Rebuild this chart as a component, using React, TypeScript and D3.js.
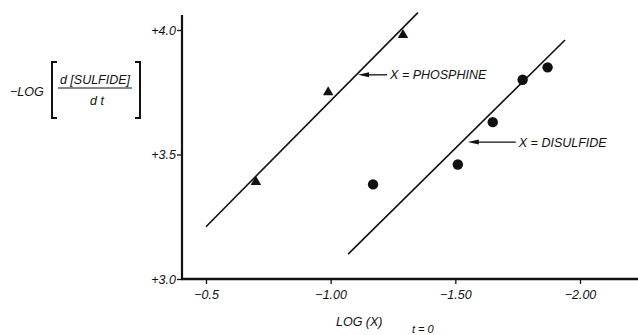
import { useRef, useEffect } from "react";
import * as d3 from "d3";

// readings from the plot
const phosphineX = [-0.7, -0.99, -1.29];
const phosphineY = [3.39, 3.75, 3.98];
const disulfideX = [-1.17, -1.51, -1.65, -1.77, -1.87];
const disulfideY = [3.38, 3.46, 3.63, 3.8, 3.85];

// drawn fit lines (end points)
const phosphineFitX = [-0.5, -1.35];
const phosphineFitY = [3.21, 4.07];
const disulfideFitX = [-1.07, -1.94];
const disulfideFitY = [3.1, 3.96];

const xTicks = [-0.5, -1.0, -1.5, -2.0];
const xTickLabels = ["\u22120.5", "\u22121.00", "\u22121.50", "\u22122.00"];
const yTicks = [3.0, 3.5, 4.0];
const yTickLabels = ["+3.0", "+3.5", "+4.0"];

const labels = ["X = PHOSPHINE", "X = DISULFIDE"];
const labelTipX = [-1.11, -1.55];
const labelTipY = [3.82, 3.55];

const FONT = "'Liberation Sans', Arial, sans-serif";

const App = () => {
  const svgRef = useRef<SVGSVGElement | null>(null);

  const W = 638;
  const H = 335;

  useEffect(() => {
    if (!svgRef.current) return;
    const svg = d3.select(svgRef.current);
    svg.selectAll("*").remove();

    const x = d3.scaleLinear().domain([-0.5, -2.0]).range([206, 580]);
    const y = d3.scaleLinear().domain([3.0, 4.0]).range([279, 30]);
    const x0 = 182;
    const y0 = y(3.0);

    const g = svg
      .append("g")
      .style("font-family", FONT)
      .style("font-style", "italic");

    // axes
    const yAxis = d3
      .axisLeft(y)
      .tickValues(yTicks)
      .tickSize(5)
      .tickSizeOuter(0)
      .tickFormat((d, i) => yTickLabels[i]);
    const yg = g.append("g").attr("transform", `translate(${x0},0)`).call(yAxis);
    yg.select(".domain").remove();
    yg.selectAll("line").attr("stroke", "#111").attr("stroke-width", 1.3);
    yg.selectAll("text")
      .style("font-size", "12.5px")
      .attr("font-family", FONT)
      .attr("fill", "#111")
      .attr("x", -6);

    const xAxis = d3
      .axisBottom(x)
      .tickValues(xTicks)
      .tickSize(5)
      .tickSizeOuter(0)
      .tickFormat((d, i) => xTickLabels[i]);
    const xg = g.append("g").attr("transform", `translate(0,${y0})`).call(xAxis);
    xg.select(".domain").remove();
    xg.selectAll("line").attr("stroke", "#111").attr("stroke-width", 1.3);
    xg.selectAll("text")
      .style("font-size", "12.5px")
      .attr("font-family", FONT)
      .attr("fill", "#111")
      .attr("y", 11);

    g.append("line")
      .attr("x1", x0)
      .attr("x2", x0)
      .attr("y1", 15)
      .attr("y2", y0 + 1)
      .attr("stroke", "#111")
      .attr("stroke-width", 2.2);
    g.append("line")
      .attr("x1", x0 - 1)
      .attr("x2", W)
      .attr("y1", y0)
      .attr("y2", y0)
      .attr("stroke", "#111")
      .attr("stroke-width", 2.4);

    // fit lines
    const line = d3
      .line<number[]>()
      .x((d) => x(d[0]))
      .y((d) => y(d[1]));
    const fits = [
      d3.zip(phosphineFitX, phosphineFitY),
      d3.zip(disulfideFitX, disulfideFitY),
    ];
    g.selectAll("path.fit")
      .data(fits)
      .join("path")
      .attr("class", "fit")
      .attr("d", (d) => line(d))
      .attr("fill", "none")
      .attr("stroke", "#111")
      .attr("stroke-width", 1.6);

    // points
    const tri = d3.symbol().type(d3.symbolTriangle).size(48);
    g.selectAll("path.tri")
      .data(d3.zip(phosphineX, phosphineY))
      .join("path")
      .attr("class", "tri")
      .attr("d", tri)
      .attr("transform", (d) => `translate(${x(d[0])},${y(d[1])})`)
      .attr("fill", "#111");

    g.selectAll("circle.pt")
      .data(d3.zip(disulfideX, disulfideY))
      .join("circle")
      .attr("class", "pt")
      .attr("cx", (d) => x(d[0]))
      .attr("cy", (d) => y(d[1]))
      .attr("r", 5.2)
      .attr("fill", "#111");

    // arrow labels
    labels.forEach((lab, i) => {
      const tx = x(labelTipX[i]);
      const ty = y(labelTipY[i]);
      const len = i === 0 ? 29 : 48;
      g.append("line")
        .attr("x1", tx + 6)
        .attr("x2", tx + len)
        .attr("y1", ty)
        .attr("y2", ty)
        .attr("stroke", "#111")
        .attr("stroke-width", 1.3);
      g.append("path")
        .attr("d", `M${tx},${ty} L${tx + 11},${ty - 2.5} L${tx + 11},${ty + 2.5} Z`)
        .attr("fill", "#111");
      g.append("text")
        .attr("x", tx + len + 3)
        .attr("y", ty + 4.5)
        .attr("font-size", 12.5)
        .attr("fill", "#111")
        .text(lab);
    });

    // y label
    const yl = g.append("g").attr("fill", "#111");
    yl.append("text").attr("x", 10).attr("y", 96).attr("font-size", 12.5).text("\u2212LOG");
    yl.append("text").attr("x", 95).attr("y", 84).attr("font-size", 12.5).attr("text-anchor", "middle").text("d [SULFIDE]");
    yl.append("line").attr("x1", 58).attr("x2", 132).attr("y1", 88).attr("y2", 88).attr("stroke", "#111").attr("stroke-width", 1);
    yl.append("text").attr("x", 97).attr("y", 105).attr("font-size", 12.5).attr("text-anchor", "middle").text("d t");
    yl.append("path")
      .attr("d", "M57,62 L52,62 L52,118 L57,118")
      .attr("fill", "none")
      .attr("stroke", "#111")
      .attr("stroke-width", 2);
    yl.append("path")
      .attr("d", "M135,62 L140,62 L140,118 L135,118")
      .attr("fill", "none")
      .attr("stroke", "#111")
      .attr("stroke-width", 2);

    // x label
    g.append("text").attr("x", 336).attr("y", 326).attr("font-size", 12.5).attr("fill", "#111").text("LOG (X)");
    g.append("text").attr("x", 412).attr("y", 333).attr("font-size", 11).attr("fill", "#111").text("t = 0");
  }, []);

  return (
    <svg
      ref={svgRef}
      width={W}
      height={H}
      style={{ position: "absolute", left: 0, top: 0, background: "#fff" }}
    ></svg>
  );
};

export default App;
